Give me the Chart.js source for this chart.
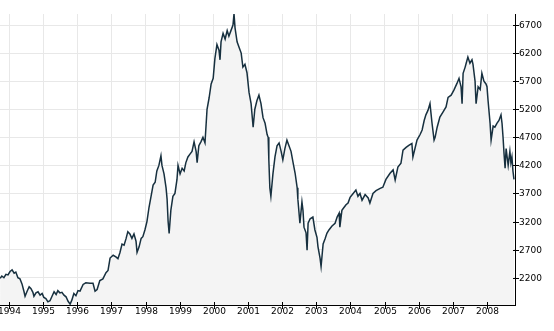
<!DOCTYPE html>
<html>
<head>
<meta charset="utf-8">
<script src="https://cdn.jsdelivr.net/npm/chart.js@4/dist/chart.umd.min.js"></script>
<style>
  html, body { margin: 0; padding: 0; background: #fff; }
  #wrap { position: relative; width: 554px; height: 331px; }
</style>
</head>
<body>
<div id="wrap"><canvas id="chart"></canvas></div>
<script>
// Index level, Oct 1993 - Oct 2008 (dates as decimal years)
const dates = [
  1993.74, 1993.79, 1993.85, 1993.91, 1993.97,
  1994.03, 1994.09, 1994.15, 1994.20, 1994.26, 1994.32, 1994.38, 1994.44, 1994.47, 1994.53, 1994.59, 1994.64, 1994.70, 1994.73, 1994.79, 1994.85, 1994.91, 1994.97,
  1995.02, 1995.08, 1995.14, 1995.20, 1995.26, 1995.32, 1995.38, 1995.43, 1995.49, 1995.55, 1995.61, 1995.67, 1995.73, 1995.79, 1995.84, 1995.90, 1995.96,
  1996.02, 1996.08, 1996.17, 1996.25, 1996.37, 1996.46, 1996.52, 1996.58, 1996.66, 1996.75, 1996.84, 1996.90, 1996.96,
  1997.05, 1997.13, 1997.19, 1997.25, 1997.31, 1997.37, 1997.43, 1997.48, 1997.54, 1997.60, 1997.66, 1997.72, 1997.75, 1997.81, 1997.87, 1997.92, 1997.98,
  1998.04, 1998.10, 1998.16, 1998.22, 1998.28, 1998.33, 1998.39, 1998.45, 1998.48, 1998.54, 1998.60, 1998.63, 1998.66, 1998.69, 1998.74, 1998.80, 1998.86, 1998.92, 1998.95,
  1999.01, 1999.07, 1999.13, 1999.18, 1999.24, 1999.30, 1999.36, 1999.42, 1999.48, 1999.51, 1999.56, 1999.62, 1999.68, 1999.74, 1999.80, 1999.86, 1999.92, 1999.98,
  2000.03, 2000.09, 2000.15, 2000.18, 2000.21, 2000.27, 2000.33, 2000.39, 2000.44, 2000.50, 2000.56, 2000.59, 2000.62, 2000.68, 2000.74, 2000.80, 2000.85, 2000.91, 2000.97,
  2001.03, 2001.09, 2001.15, 2001.20, 2001.26, 2001.32, 2001.38, 2001.44, 2001.50, 2001.56, 2001.59, 2001.61, 2001.64, 2001.67, 2001.73, 2001.79, 2001.85, 2001.91, 2001.97,
  2002.02, 2002.08, 2002.14, 2002.20, 2002.26, 2002.32, 2002.38, 2002.44, 2002.46, 2002.52, 2002.58, 2002.61, 2002.64, 2002.70, 2002.73, 2002.76, 2002.82, 2002.90, 2002.96,
  2003.02, 2003.05, 2003.11, 2003.14, 2003.17, 2003.20, 2003.26, 2003.31, 2003.37, 2003.46, 2003.55, 2003.61, 2003.67, 2003.69, 2003.75, 2003.81, 2003.87, 2003.93, 2003.99,
  2004.08, 2004.16, 2004.22, 2004.28, 2004.34, 2004.43, 2004.52, 2004.57, 2004.66, 2004.75, 2004.87, 2004.95,
  2005.04, 2005.16, 2005.25, 2005.31, 2005.39, 2005.48, 2005.54, 2005.63, 2005.72, 2005.80, 2005.83, 2005.95,
  2006.04, 2006.10, 2006.16, 2006.21, 2006.27, 2006.33, 2006.39, 2006.45, 2006.48, 2006.54, 2006.62, 2006.71, 2006.80, 2006.86, 2006.95,
  2007.03, 2007.12, 2007.18, 2007.24, 2007.27, 2007.30, 2007.36, 2007.39, 2007.44, 2007.50, 2007.56, 2007.59, 2007.65, 2007.68, 2007.74, 2007.80, 2007.85, 2007.91, 2007.97,
  2008.00, 2008.03, 2008.09, 2008.12, 2008.18, 2008.23, 2008.29, 2008.35, 2008.41, 2008.44, 2008.47, 2008.50, 2008.53, 2008.56, 2008.59, 2008.62, 2008.67, 2008.70, 2008.73, 2008.76, 2008.79
];
const closes = [
  2190, 2230, 2200, 2260, 2250,
  2310, 2340, 2280, 2300, 2200, 2180, 2090, 1950, 1870, 1960, 2040, 2010, 1940, 1870, 1930, 1950, 1890, 1920,
  1850, 1830, 1770, 1790, 1870, 1950, 1900, 1970, 1930, 1940, 1890, 1860, 1780, 1730, 1800, 1920, 1880,
  1970, 1960, 2080, 2110, 2100, 2100, 1960, 1990, 2150, 2180, 2290, 2330, 2550,
  2600, 2570, 2540, 2650, 2800, 2780, 2900, 3020, 2980, 2900, 2980, 2850, 2650, 2750, 2900, 2930, 3050,
  3200, 3450, 3650, 3850, 3900, 4100, 4200, 4370, 4200, 4050, 3800, 3600, 3200, 2990, 3400, 3650, 3700, 3950, 4200,
  4050, 4150, 4100, 4250, 4350, 4400, 4450, 4620, 4450, 4250, 4550, 4620, 4700, 4600, 5200, 5400, 5650, 5750,
  6100, 6350, 6250, 6080, 6400, 6550, 6450, 6600, 6500, 6600, 6700, 6900, 6650, 6400, 6300, 6200, 5950, 6000, 5850,
  5500, 5300, 4880, 5200, 5350, 5450, 5300, 5050, 4950, 4750, 4700, 4300, 3800, 3650, 4050, 4350, 4550, 4600, 4450,
  4300, 4500, 4650, 4550, 4450, 4250, 4060, 3800, 3600, 3170, 3550, 3400, 3100, 3000, 2690, 3170, 3250, 3280, 3050,
  2920, 2750, 2550, 2400, 2600, 2800, 2900, 2990, 3050, 3120, 3170, 3280, 3350, 3100, 3400, 3450, 3500, 3530, 3630,
  3700, 3760, 3650, 3700, 3580, 3680, 3620, 3530, 3700, 3750, 3790, 3810,
  3950, 4060, 4120, 3940, 4170, 4240, 4470, 4520, 4560, 4590, 4350, 4650,
  4750, 4830, 5000, 5100, 5180, 5300, 4950, 4650, 4700, 4880, 5060, 5150, 5240, 5410, 5450,
  5540, 5660, 5750, 5600, 5300, 5840, 5950, 6020, 6130, 6020, 6080, 6000, 5700, 5300, 5600, 5550, 5840, 5700, 5650,
  5600, 5360, 4950, 4650, 4900, 4880, 4950, 5000, 5100, 4950, 4700, 4400, 4150, 4500, 4350, 4200, 4450, 4250, 4350, 4100, 3950
];
const yTicks = [2200, 2700, 3200, 3700, 4200, 4700, 5200, 5700, 6200, 6700];
const xYears = [1994, 1995, 1996, 1997, 1998, 1999, 2000, 2001, 2002, 2003, 2004, 2005, 2006, 2007, 2008];

const LABEL_FONT = '9px "DejaVu Sans", Verdana, sans-serif';

// axis lines, tick marks and tick labels drawn on top of the series
const axisMarks = {
  id: 'axisMarks',
  afterDraw(chart) {
    const { ctx, chartArea: a, scales: { x, y } } = chart;
    ctx.save();
    ctx.strokeStyle = '#000';
    ctx.lineWidth = 1;
    ctx.beginPath();
    ctx.moveTo(a.left, a.bottom + 0.5);
    ctx.lineTo(a.right + 1, a.bottom + 0.5);
    ctx.moveTo(a.right + 0.5, a.top);
    ctx.lineTo(a.right + 0.5, a.bottom + 1);
    yTicks.forEach(v => {
      const py = Math.round(y.getPixelForValue(v)) + 0.5;
      ctx.moveTo(a.right - 2, py);
      ctx.lineTo(a.right + 4, py);
    });
    xYears.forEach(v => {
      const px = Math.round(x.getPixelForValue(v)) + 0.5;
      ctx.moveTo(px, a.bottom - 3);
      ctx.lineTo(px, a.bottom + 4);
    });
    ctx.stroke();

    ctx.fillStyle = '#000';
    ctx.font = LABEL_FONT;
    ctx.textAlign = 'left';
    ctx.textBaseline = 'middle';
    yTicks.forEach(v => {
      ctx.fillText(String(v), a.right + 4, Math.round(y.getPixelForValue(v)) + 1);
    });
    ctx.textAlign = 'center';
    ctx.textBaseline = 'alphabetic';
    xYears.forEach(v => {
      ctx.fillText(String(v), Math.round(x.getPixelForValue(v)) + 0.5, a.bottom + 9);
    });
    ctx.restore();
  }
};

new Chart(document.getElementById('chart'), {
  type: 'line',
  data: {
    datasets: [{
      data: dates.map((d, i) => ({ x: d, y: closes[i] })),
      borderColor: '#17303f',
      borderWidth: 1.5,
      backgroundColor: '#f4f4f4',
      fill: 'start',
      pointRadius: 0,
      tension: 0
    }]
  },
  options: {
    responsive: true,
    maintainAspectRatio: false,
    animation: false,
    devicePixelRatio: 1,
    layout: { padding: { left: 0, right: 39, top: 14, bottom: 26 } },
    plugins: { legend: { display: false }, tooltip: { enabled: false } },
    scales: {
      x: {
        type: 'linear',
        min: 1993.736,
        max: 2008.82,
        afterBuildTicks: s => { s.ticks = xYears.map(v => ({ value: v })); },
        ticks: { display: false },
        grid: { color: '#e8e8e8', drawTicks: false },
        border: { display: false }
      },
      y: {
        position: 'right',
        min: 1714,
        max: 6896,
        afterBuildTicks: s => { s.ticks = yTicks.map(v => ({ value: v })); },
        ticks: { display: false },
        grid: { color: '#e8e8e8', drawTicks: false },
        border: { display: false }
      }
    }
  },
  plugins: [axisMarks]
});
</script>
</body>
</html>
